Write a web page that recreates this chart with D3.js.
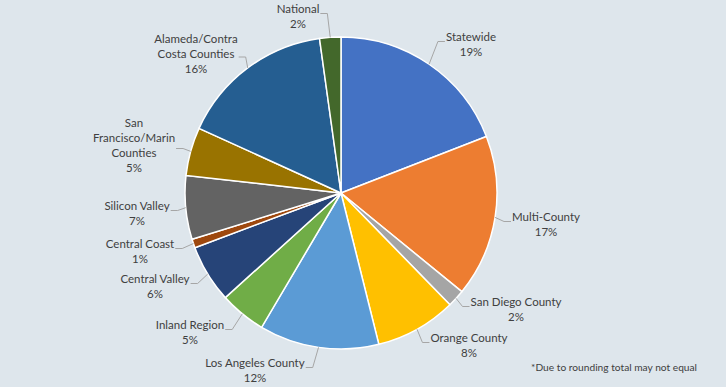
<!DOCTYPE html>
<html>
<head>
<meta charset="utf-8">
<script src="https://cdn.jsdelivr.net/npm/d3@7"></script>
<style>
  body { margin: 0; background: #dee6ec; }
  svg { display: block; }
  text { font-family: Lato, "Open Sans", sans-serif; font-size: 11.5px; fill: #404040; }
</style>
</head>
<body>
<div id="svg-container"></div>
<script>
// data (% of total, clockwise from 12 o'clock)
const categories = [
    'Statewide', 'Multi-County', 'San Diego County', 'Orange County',
    'Los Angeles County', 'Inland Region', 'Central Valley', 'Central Coast',
    'Silicon Valley', 'San\nFrancisco/Marin\nCounties', 'Alameda/Contra\nCosta Counties', 'National'
];
const values = [19.1, 16.8, 1.8, 8.4, 12.4, 4.8, 6.0, 0.9, 6.6, 5.0, 16.0, 2.2];
const colors = [
    '#4472c4', '#ed7d31', '#a5a5a5', '#ffc000', '#5b9bd5', '#70ad47',
    '#264478', '#9e480e', '#636363', '#997300', '#255e91', '#43682b'
];
const footnote = '*Due to rounding total may not equal';

// label block centres (layout only)
const labelPos = [
    [471, 44.5], [546, 224.5], [516, 309.5], [469, 345.5],
    [255, 370.5], [190, 332.5], [155, 286.5], [140, 251.5],
    [137, 213.5], [134, 145.5], [196, 54], [298, 16.5]
];

// dimensions
const dim = { width: 726, height: 387, cx: 341, cy: 193, r: 156 }

const svg = d3.select('#svg-container')
    .append('svg')
    .attr('width', dim.width)
    .attr('height', dim.height)

svg.append('rect')
    .attr('width', dim.width)
    .attr('height', dim.height)
    .attr('fill', '#dee6ec')

const total = d3.sum(values);
const pct = d3.format('.0%');

const pie = d3.pie()
    .sort(null)
    .value(d => d.value)

const arc = d3.arc()
    .innerRadius(0)
    .outerRadius(dim.r)

const rows = categories.map((c, i) => ({ name: c, value: values[i], color: colors[i], pos: labelPos[i] }))
const slices = pie(rows)

const g = svg.append('g')
    .attr('transform', `translate(${dim.cx}, ${dim.cy})`)

g.selectAll('path.slice')
    .data(slices)
    .join('path')
    .attr('class', 'slice')
    .attr('d', arc)
    .attr('fill', d => d.data.color)
    .attr('stroke', '#fff')
    .attr('stroke-width', 1.5)

// labels
const lineH = 15;
const labels = svg.append('g')

slices.forEach(d => {
    const lines = d.data.name.split('\n').concat(pct(d.data.value / total))
    const [x, y] = d.data.pos
    const n = lines.length
    const t = labels.append('text')
        .attr('text-anchor', 'middle')
    lines.forEach((l, j) => {
        t.append('tspan')
            .attr('x', x)
            .attr('y', y - (n - 1) * lineH / 2 + j * lineH + 4)
            .text(l)
    })

    // leader line
    const bb = t.node().getBBox()
    const mid = (d.startAngle + d.endAngle) / 2
    const p0 = [dim.cx + Math.sin(mid) * dim.r, dim.cy - Math.cos(mid) * dim.r]
    const right = mid < Math.PI
    const edge = right ? bb.x - 1 : bb.x + bb.width + 1
    const ly = y + (n === 2 ? -3 : 3)
    const dir = right ? -1 : 1
    labels.append('path')
        .attr('d', d3.line()([p0, [edge + dir * 7, ly], [edge, ly]]))
        .attr('fill', 'none')
        .attr('stroke', '#a6a6a6')
        .attr('stroke-width', 1)
})

svg.append('text')
    .attr('x', 697)
    .attr('y', 370.5)
    .attr('text-anchor', 'end')
    .style('font-size', '10.2px')
    .text(footnote)
</script>
</body>
</html>
